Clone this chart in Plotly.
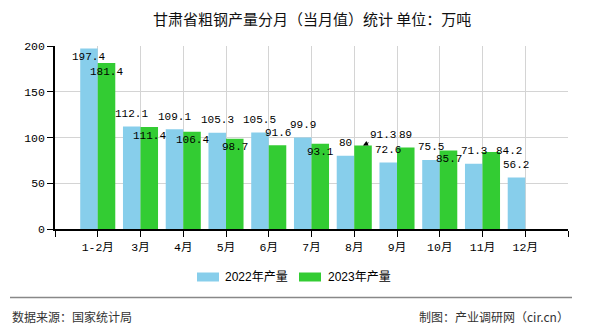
import plotly.graph_objects as go

categories = ["1-2月", "3月", "4月", "5月", "6月", "7月", "8月", "9月", "10月", "11月", "12月"]
prod_2022 = [197.4, 112.1, 109.1, 105.3, 105.5, 99.9, 80, 72.6, 75.5, 71.3, 56.2]
prod_2023 = [181.4, 111.4, 106.4, 98.7, 91.6, 93.1, 91.3, 89, 85.7, 84.2, None]
series_names = ["2022年产量", "2023年产量"]
y_ticks = [0, 50, 100, 150, 200]

W, H = 590, 330
ML, MR, MT, MB = 55, 22, 46, 101
PW, PH = W - ML - MR, H - MT - MB

def px_x(x):
    return (x - ML) / PW

def px_y(y):
    return (H - MB - y) / PH

C22 = "#87CEEB"
C23 = "#33CC33"
xs = list(range(len(categories)))

fig = go.Figure()
fig.add_trace(go.Bar(x=xs, y=prod_2022, name=series_names[0], marker_color=C22,
                     marker_line_width=0, showlegend=False))
fig.add_trace(go.Bar(x=xs, y=prod_2023, name=series_names[1], marker_color=C23,
                     marker_line_width=0, showlegend=False))

label_font = dict(family="Liberation Mono, DejaVu Sans Mono, monospace", size=11, color="#000")
half = 0.41 / 2  # bar center offset in category units

# default placement: 2022 above bar, 2023 inside near top
place22 = {0: "in"}
place23 = {4: "up", 7: "up", 6: "arrow", 9: "right"}

annotations = []
for i, v in enumerate(prod_2022):
    mode = place22.get(i, "up")
    annotations.append(dict(x=i - half, y=v, xref="x", yref="y", text=str(v), showarrow=False,
                            font=label_font, xanchor="center", yanchor="middle",
                            yshift=12.5 if mode == "up" else -8.5))
for i, v in enumerate(prod_2023):
    if v is None:
        continue
    mode = place23.get(i, "in")
    a = dict(x=i + half, y=v, xref="x", yref="y", text=str(v), showarrow=False,
             font=label_font, xanchor="center", yanchor="middle")
    if mode == "up":
        a["yshift"] = 12.5
    elif mode == "in":
        a["yshift"] = -8.5
    elif mode == "arrow":
        a.update(showarrow=True, arrowhead=2, arrowsize=1, arrowwidth=1,
                 arrowcolor="#000", ax=20, ay=-10, yanchor="middle")
    elif mode == "right":
        a["xshift"] = 18
        a["yshift"] = 1
    annotations.append(a)

# title
annotations.append(dict(x=0.5, y=px_y(18), xref="paper", yref="paper", text="甘肃省粗钢产量分月（当月值）统计 单位：万吨",
                        showarrow=False, xanchor="center", yanchor="middle",
                        font=dict(family="Noto Sans CJK SC", size=15, color="#111")))
# legend (manual)
shapes = []
leg = [(197, 223, C22, series_names[0]), (299, 326, C23, series_names[1])]
for sx, tx, col, name in leg:
    shapes.append(dict(type="rect", xref="paper", yref="paper", x0=px_x(sx), x1=px_x(sx + 22),
                       y0=px_y(281.5), y1=px_y(272.5), fillcolor=col, line_width=0))
    annotations.append(dict(x=px_x(tx), y=px_y(277), xref="paper", yref="paper", text=name,
                            showarrow=False, xanchor="left", yanchor="middle",
                            font=dict(family="Liberation Sans, Noto Sans CJK SC", size=12, color="#000")))
# footer
shapes.append(dict(type="line", xref="paper", yref="paper", x0=px_x(10), x1=px_x(572),
                   y0=px_y(297.5), y1=px_y(297.5), line=dict(color="#888", width=1.5)))
annotations.append(dict(x=px_x(10), y=px_y(316), xref="paper", yref="paper", text="数据来源：国家统计局",
                        showarrow=False, xanchor="left", yanchor="middle",
                        font=dict(family="Noto Sans CJK SC", size=12, color="#333")))
annotations.append(dict(x=px_x(571), y=px_y(316), xref="paper", yref="paper", text="制图：产业调研网（cir.cn）",
                        showarrow=False, xanchor="right", yanchor="middle",
                        font=dict(family="Noto Sans CJK SC", size=12, color="#333")))

tick_font = dict(family="Liberation Mono, Noto Sans CJK SC", size=11.5, color="#000")
fig.update_layout(
    width=W, height=H, margin=dict(l=ML, r=MR, t=MT, b=MB),
    paper_bgcolor="white", plot_bgcolor="white",
    barmode="group", bargap=0.18, bargroupgap=0,
    annotations=annotations, shapes=shapes,
    xaxis=dict(range=[-1, len(categories)], tickmode="array",
               tickvals=list(range(-1, len(categories) + 1)),
               ticktext=[""] + categories + [""],
               showgrid=True, gridcolor="#d4d4d4", gridwidth=1,
               showline=True, linecolor="#000", linewidth=1.5,
               ticks="outside", ticklen=6, tickcolor="#000", tickfont=tick_font,
               zeroline=False, fixedrange=True),
    yaxis=dict(range=[0, 200], tickmode="array", tickvals=y_ticks,
               showgrid=True, gridcolor="#d4d4d4", gridwidth=1,
               showline=True, linecolor="#000", linewidth=1.5,
               ticks="outside", ticklen=6, tickcolor="#000", tickfont=tick_font,
               zeroline=False, fixedrange=True),
)
fig.write_html("out.html")
